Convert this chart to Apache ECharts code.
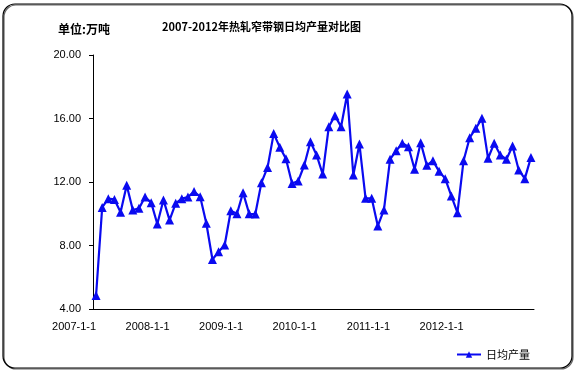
<!DOCTYPE html>
<html>
<head>
<meta charset="utf-8">
<script src="https://cdn.jsdelivr.net/npm/echarts@6/dist/echarts.min.js"></script>
<style>html,body{margin:0;padding:0;background:#fff;}#c{width:577px;height:384px;}</style>
</head>
<body>
<div id="c"></div>
<script>
var years = [2007, 2008, 2009, 2010, 2011, 2012];
var categories = [];
years.forEach(function (y) { for (var m = 1; m <= 12; m++) categories.push(y + '-' + m + '-1'); });

var dailyOutput = [
  4.85, 10.4, 10.95, 10.9, 10.1, 11.8, 10.24, 10.34, 11.05, 10.7, 9.35, 10.87,
  9.6, 10.66, 10.95, 11.05, 11.4, 11.07, 9.4, 7.12, 7.6, 8.03, 10.19, 10.0,
  11.33, 10.0, 9.98, 11.96, 12.92, 15.05, 14.19, 13.47, 11.9, 12.06, 13.07, 14.54,
  13.7, 12.5, 15.48, 16.18, 15.48, 17.54, 12.44, 14.39, 10.97, 10.97, 9.23, 10.24,
  13.43, 13.97, 14.44, 14.22, 12.8, 14.48, 13.05, 13.34, 12.67, 12.21, 11.12, 10.07,
  13.34, 14.79, 15.38, 16.01, 13.49, 14.44, 13.7, 13.43, 14.27, 12.76, 12.21, 13.55
];
var yTicks = { min: 4, max: 20, interval: 4 };
var titleText = '2007-2012年热轧窄带钢日均产量对比图';
var unitText = '单位:万吨';
var seriesName = '日均产量';

var chart = echarts.init(document.getElementById('c'), null, { renderer: 'canvas' });
var lineColor = '#0a0af0';
var font = 'Liberation Sans, Arial, sans-serif';
chart.setOption({
  animation: false,
  backgroundColor: '#fff',
  graphic: [
    { type: 'rect', shape: { x: 3, y: 4, width: 569, height: 364, r: 12 },
      style: { fill: 'none', stroke: '#000', lineWidth: 1.2, shadowColor: 'rgba(0,0,0,0.6)', shadowOffsetX: 1, shadowOffsetY: 1, shadowBlur: 0 }, z: -1 },
    { type: 'text', left: 58, top: 23, style: { text: unitText, font: 'bold 12px "Noto Sans CJK SC", sans-serif', fill: '#000' } },
    { type: 'text', left: 162, top: 21, style: { text: titleText, font: 'bold 11px "Noto Sans CJK SC", sans-serif', fill: '#000' } }
  ],
  grid: { left: 93, right: 43, top: 55, bottom: 75 },
  legend: {
    data: [seriesName], left: 451, top: 344, itemWidth: 24, itemHeight: 8, itemGap: 4,
    textStyle: { fontSize: 11, color: '#000', fontFamily: '"Noto Sans CJK SC", sans-serif' }
  },
  xAxis: {
    type: 'category', data: categories, boundaryGap: true,
    axisLine: { lineStyle: { color: '#000', width: 1 } },
    axisTick: { interval: 11, length: 4, lineStyle: { color: '#000' } },
    axisLabel: { interval: 11, align: 'right', margin: 12, fontSize: 11, color: '#000', fontFamily: font }
  },
  yAxis: {
    type: 'value', min: yTicks.min, max: yTicks.max, interval: yTicks.interval,
    axisLine: { show: true, lineStyle: { color: '#000', width: 1 } },
    axisTick: { show: true, length: 4, lineStyle: { color: '#000' } },
    splitLine: { show: false },
    axisLabel: { margin: 12, fontSize: 11, color: '#000', fontFamily: font, formatter: function (v) { return v.toFixed(2); } }
  },
  series: [{
    name: seriesName, type: 'line', data: dailyOutput,
    symbol: 'triangle', symbolSize: 9, showAllSymbol: true,
    lineStyle: { color: lineColor, width: 2.2 },
    itemStyle: { color: lineColor }
  }]
});
</script>
</body>
</html>
